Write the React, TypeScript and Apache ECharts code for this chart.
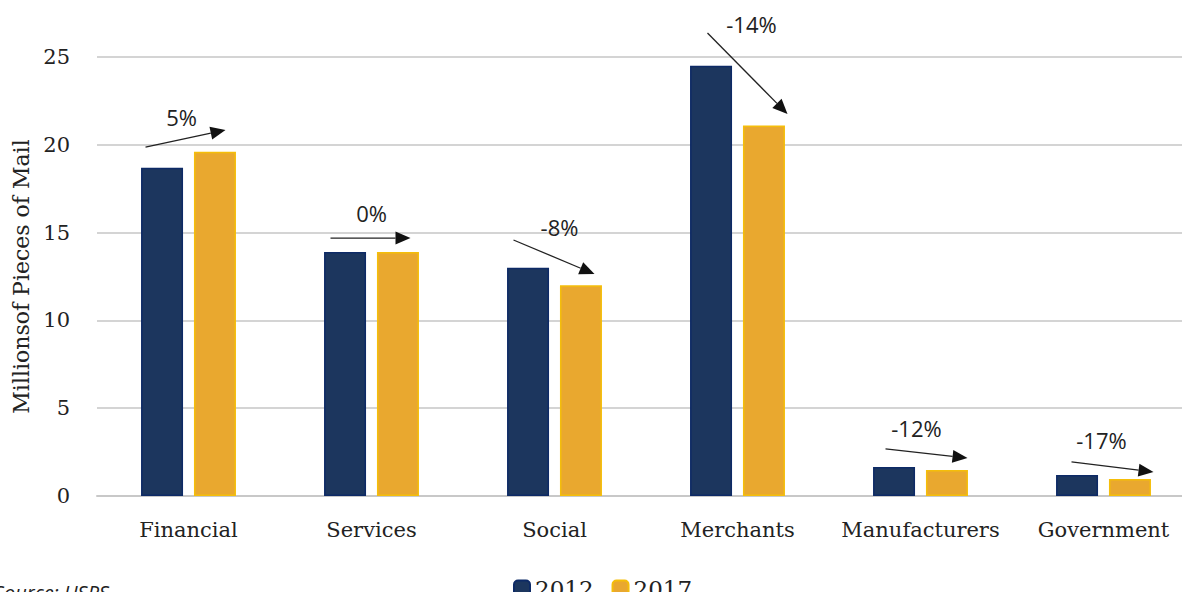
import React, { useEffect, useRef } from "react";
import * as echarts from "echarts";

const categories = ["Financial", "Services", "Social", "Merchants", "Manufacturers", "Government"];
const values2012 = [18.7, 13.9, 13.0, 24.5, 1.65, 1.2];
const values2017 = [19.6, 13.9, 12.0, 21.1, 1.48, 0.97];
const changeLabels = ["5%", "0%", "-8%", "-14%", "-12%", "-17%"];
const yTicks = [0, 5, 10, 15, 20, 25];

// annotation placement (data units for y, pixel offsets from category centre for x)
const arrowStartY = [19.87, 14.69, 14.58, 26.37, 2.68, 1.94];
const arrowEndY = [20.84, 14.69, 12.64, 21.75, 2.16, 1.37];
const arrowStartDx = [-43, -41, -41, -30, -35, -32];
const arrowEndDx = [37, 39, 40, 50, 47, 50];
const labelY = [21.58, 16.1, 15.3, 26.9, 3.87, 3.19];
const labelDx = [-7, 0, 5, 14, -4, -2];

const SERIF = "'DejaVu Serif', serif";
const SANS = "'Open Sans', sans-serif";

export default function App() {
  const ref = useRef<HTMLDivElement>(null);
  useEffect(() => {
    document.body.style.margin = "0";
    const chart = echarts.init(ref.current!, null, { renderer: "svg" });
    chart.setOption({
      animation: false,
      grid: { left: 97, top: 57, width: 1098, height: 439 },
      legend: {
        data: ["2012", "2017"],
        left: 508,
        top: 572,
        itemWidth: 16,
        itemHeight: 16,
        itemGap: 18,
        textStyle: { fontFamily: SERIF, fontSize: 23, color: "#222" },
      },
      xAxis: {
        type: "category",
        data: categories,
        axisLine: { lineStyle: { color: "#c8c8c8", width: 2 } },
        axisTick: { show: false },
        axisLabel: { fontFamily: SERIF, fontSize: 21, color: "#222", margin: 23, interval: 0 },
      },
      yAxis: {
        type: "value",
        min: yTicks[0],
        max: yTicks[yTicks.length - 1],
        interval: 5,
        name: "Millionsof Pieces of Mail",
        nameLocation: "middle",
        nameGap: 61,
        nameTextStyle: { fontFamily: SERIF, fontSize: 22, color: "#222" },
        axisLabel: { fontFamily: SERIF, fontSize: 21, color: "#222", margin: 27 },
        splitLine: { lineStyle: { color: "#d4d4d4", width: 2 } },
        axisLine: { show: false },
        axisTick: { show: false },
      },
      series: [
        {
          name: "2012",
          type: "bar",
          data: values2012,
          barWidth: 42,
          barGap: "26%",
          itemStyle: { color: "#1c365e", borderColor: "#0d2a66", borderWidth: 1.5 },
        },
        {
          name: "2017",
          type: "bar",
          data: values2017,
          barWidth: 42,
          itemStyle: { color: "#e9a82f", borderColor: "#f5be0a", borderWidth: 1.5 },
        },
      ],
    });

    const elements: any[] = [];
    categories.forEach((c, i) => {
      const s = chart.convertToPixel({ gridIndex: 0 }, [i, arrowStartY[i]]) as number[];
      const e = chart.convertToPixel({ gridIndex: 0 }, [i, arrowEndY[i]]) as number[];
      const l = chart.convertToPixel({ gridIndex: 0 }, [i, labelY[i]]) as number[];
      const x1 = s[0] + arrowStartDx[i];
      const y1 = s[1];
      const x2 = e[0] + arrowEndDx[i];
      const y2 = e[1];
      const dx = x2 - x1;
      const dy = y2 - y1;
      const len = Math.sqrt(dx * dx + dy * dy);
      const ux = dx / len;
      const uy = dy / len;
      const hl = 15;
      const hw = 6.5;
      const bx = x2 - ux * hl;
      const by = y2 - uy * hl;
      elements.push({
        type: "line",
        shape: { x1, y1, x2: bx, y2: by },
        style: { stroke: "#222", lineWidth: 1.3 },
      });
      elements.push({
        type: "polygon",
        shape: {
          points: [
            [x2, y2],
            [bx - uy * hw, by + ux * hw],
            [bx + uy * hw, by - ux * hw],
          ],
        },
        style: { fill: "#111" },
      });
      elements.push({
        type: "text",
        x: l[0] + labelDx[i],
        y: l[1],
        style: {
          text: changeLabels[i],
          fontFamily: SANS,
          fontSize: 22,
          fill: "#222",
          align: "center",
          verticalAlign: "middle",
        },
      });
    });
    elements.push({
      type: "text",
      x: -6,
      y: 582,
      style: {
        text: "Source: USPS",
        fontFamily: SANS,
        fontStyle: "italic",
        fontSize: 20,
        fill: "#222",
      },
    });
    chart.setOption({ graphic: { elements } });
    return () => chart.dispose();
  }, []);
  return (
    <div style={{ width: 1182, height: 592, overflow: "hidden", position: "relative" }}>
      <div ref={ref} style={{ width: 1210, height: 592 }} />
    </div>
  );
}
